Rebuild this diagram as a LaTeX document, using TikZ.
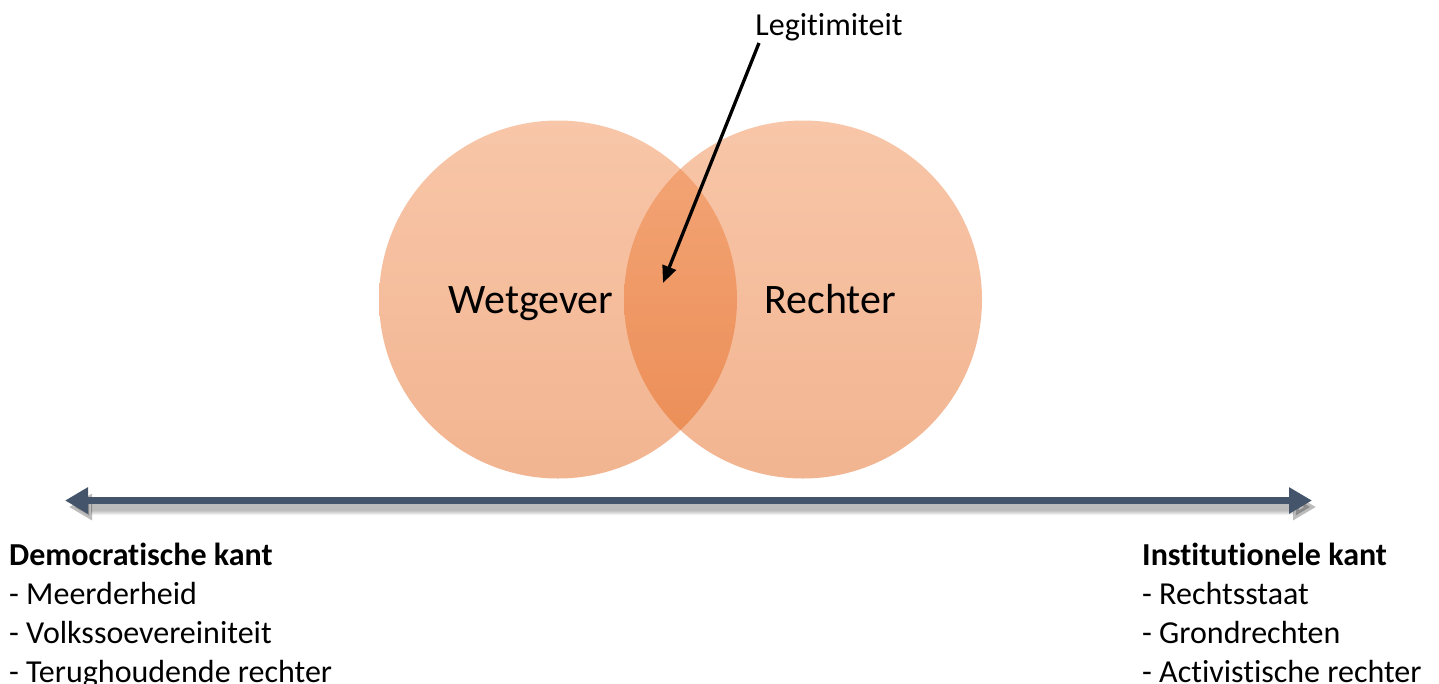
\documentclass[tikz,border=0pt]{standalone}
\usepackage{fontspec}
\setmainfont{Carlito}[Ligatures=NoCommon]
\usetikzlibrary{arrows.meta}
\definecolor{circtop}{RGB}{239,128,62}
\definecolor{circbot}{RGB}{226,90,10}
\definecolor{axis}{RGB}{68,84,106}
\tikzset{
  venn/.style={top color=circtop, bottom color=circbot, opacity=0.45},
  small/.style={font=\fontsize{32}{39}\selectfont, inner sep=0pt, anchor=base west},
  big/.style={font=\fontsize{42}{48}\selectfont, inner sep=0pt, anchor=base},
  axisline/.style={draw=axis, line width=7pt, {Triangle[length=23pt,width=25pt]}-{Triangle[length=23pt,width=25pt]}},
  shadowline/.style={draw=black, opacity=0.06, {Triangle[length=23pt,width=25pt]}-{Triangle[length=23pt,width=25pt]}},
  pointer/.style={draw=black, line width=3.3pt, -{Triangle[length=17pt,width=14pt]}}
}
\begin{document}
\begin{tikzpicture}[x=1pt,y=-1pt]
\useasboundingbox (0,0) rectangle (1439,683);
% circles
\coordinate (cW) at (558,299.5);
\coordinate (cR) at (803,299.5);
\shade[venn] (cW) circle[radius=179pt];
\shade[venn] (cR) circle[radius=179pt];
\node[big] (wet) at (531,313) {Wetgever};
\node[big] (rec) at (830,313) {Rechter};
% legitimiteit
\node[font=\fontsize{32}{39}\selectfont, inner sep=0pt, anchor=base] (leg) at (829,35) {Legitimiteit};
\coordinate (legS) at (759,43);
\coordinate (legT) at (663,283);
\draw[pointer] (legS) -- (legT);
% axis with shadow
\coordinate (aL) at (65,500.5);
\coordinate (aR) at (1312,500.5);
\coordinate (sL) at (69,507);
\coordinate (sR) at (1316,507);
\foreach \w in {15,13,11,9,7}{
  \draw[shadowline, line width=\w pt] (sL) -- (sR);
}
\draw[axisline] (aL) -- (aR);
% left text
\node[small] (d0) at (9,565) {\textbf{Democratische kant}};
\node[small] (d1) at (9,604) {- Meerderheid};
\node[small] (d2) at (9,643) {- Volkssoevereiniteit};
\node[small] (d3) at (9,682) {- Terughoudende rechter};
% right text
\node[small] (i0) at (1142,565) {\textbf{Institutionele kant}};
\node[small] (i1) at (1142,604) {- Rechtsstaat};
\node[small] (i2) at (1142,643) {- Grondrechten};
\node[small] (i3) at (1142,682) {- Activistische rechter};
\end{tikzpicture}
\end{document}
